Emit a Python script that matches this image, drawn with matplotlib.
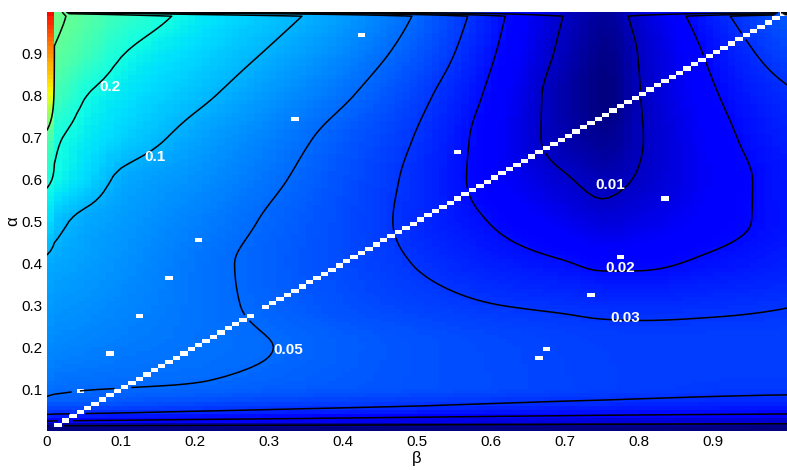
import numpy as np
import matplotlib
matplotlib.use("Agg")
import matplotlib.pyplot as plt
from matplotlib.colors import LogNorm

# coarse table of the surface, rows = alpha, columns = beta (beta = 0 kept apart)
alpha_rows = [0.0, 0.01, 0.02, 0.04, 0.07, 0.1, 0.2, 0.3, 0.4, 0.5, 0.6, 0.7, 0.8, 0.9, 0.99]
beta_cols = [0.01, 0.05, 0.1, 0.2, 0.3, 0.4, 0.5, 0.6, 0.7, 0.75, 0.8, 0.9, 1.0]

vals = [
    [0.0035, 0.0035, 0.0035, 0.0035, 0.0035, 0.0035, 0.0035, 0.0035, 0.0035, 0.0035, 0.0035, 0.0035, 0.0035],
    [0.0078, 0.0077, 0.0076, 0.0074, 0.0072, 0.0071, 0.0069, 0.0068, 0.0067, 0.0066, 0.0066, 0.0065, 0.0064],
    [0.0172, 0.0168, 0.0164, 0.0156, 0.0149, 0.0142, 0.0136, 0.0130, 0.0125, 0.0122, 0.0120, 0.0116, 0.0112],
    [0.0297, 0.0290, 0.0283, 0.0265, 0.0252, 0.0240, 0.0231, 0.0222, 0.0214, 0.0210, 0.0207, 0.0202, 0.0198],
    [0.0460, 0.0450, 0.0430, 0.0400, 0.0370, 0.0350, 0.0330, 0.0312, 0.0297, 0.0292, 0.0287, 0.0278, 0.0272],
    [0.0520, 0.0505, 0.0497, 0.0485, 0.0450, 0.0425, 0.0398, 0.0375, 0.0350, 0.0340, 0.0330, 0.0320, 0.0315],
    [0.0660, 0.0630, 0.0590, 0.0545, 0.0503, 0.0448, 0.0400, 0.0370, 0.0345, 0.0335, 0.0332, 0.0332, 0.0335],
    [0.0760, 0.0720, 0.0660, 0.0550, 0.0470, 0.0390, 0.0340, 0.0303, 0.0285, 0.0275, 0.0272, 0.0282, 0.0297],
    [0.0900, 0.0810, 0.0720, 0.0560, 0.0455, 0.0370, 0.0295, 0.0240, 0.0205, 0.0185, 0.0187, 0.0215, 0.0245],
    [0.1150, 0.0900, 0.0790, 0.0620, 0.0480, 0.0370, 0.0270, 0.0197, 0.0140, 0.0118, 0.0133, 0.0175, 0.0225],
    [0.1900, 0.1400, 0.0920, 0.0720, 0.0540, 0.0390, 0.0273, 0.0170, 0.0105, 0.0088, 0.0104, 0.0165, 0.0230],
    [0.2150, 0.1680, 0.1320, 0.0860, 0.0620, 0.0430, 0.0293, 0.0167, 0.0081, 0.0066, 0.0096, 0.0174, 0.0250],
    [0.3500, 0.2050, 0.1600, 0.1110, 0.0760, 0.0530, 0.0335, 0.0184, 0.0077, 0.0056, 0.0098, 0.0192, 0.0285],
    [0.4800, 0.3300, 0.2050, 0.1390, 0.0960, 0.0660, 0.0410, 0.0210, 0.0088, 0.0062, 0.0102, 0.0218, 0.0360],
    [0.5600, 0.4200, 0.3000, 0.1710, 0.1180, 0.0800, 0.0480, 0.0235, 0.0098, 0.0072, 0.0118, 0.0259, 0.0450],
]

# beta = 0 column, same alpha rows
beta0_col = [0.0035, 0.0079, 0.0176, 0.0302, 0.046, 0.054, 0.068, 0.080, 0.094, 0.145, 0.22, 0.40, 2.5, 8.0, 30.0]

# alpha = 1 row: collapses for beta >= 0.03
top_cut = 0.03
top_val = 0.002

levels = [0.01, 0.02, 0.03, 0.05, 0.1, 0.2, 0.5]

# cells with no result (beta index, alpha index)
holes = [(42, 94), (33, 74), (55, 66), (83, 55), (20, 45), (77, 41), (73, 32),
         (67, 19), (66, 17), (16, 36), (12, 27), (8, 18), (4, 9)]
diag_skip = [0, 28]

# label positions (beta, alpha) for each level shown
label_pos = {0.2: (0.085, 0.821), 0.1: (0.146, 0.654), 0.05: (0.326, 0.193),
             0.01: (0.761, 0.587), 0.02: (0.774, 0.389), 0.03: (0.781, 0.270)}


def pchip(x, y, xq):
    x = np.asarray(x, float); y = np.asarray(y, float); xq = np.asarray(xq, float)
    h = np.diff(x); d = np.diff(y) / h
    n = len(x)
    m = np.zeros(n)
    for k in range(1, n - 1):
        if d[k - 1] * d[k] > 0:
            w1 = 2 * h[k] + h[k - 1]; w2 = h[k] + 2 * h[k - 1]
            m[k] = (w1 + w2) / (w1 / d[k - 1] + w2 / d[k])

    def edge(h0, h1, d0, d1):
        s = ((2 * h0 + h1) * d0 - h0 * d1) / (h0 + h1)
        if np.sign(s) != np.sign(d0):
            s = 0.0
        elif np.sign(d0) != np.sign(d1) and abs(s) > 3 * abs(d0):
            s = 3 * d0
        return s
    m[0] = edge(h[0], h[1], d[0], d[1])
    m[-1] = edge(h[-1], h[-2], d[-1], d[-2])
    idx = np.clip(np.searchsorted(x, xq) - 1, 0, n - 2)
    t = (xq - x[idx]) / h[idx]
    return ((2 * t**3 - 3 * t**2 + 1) * y[idx] + (t**3 - 2 * t**2 + t) * h[idx] * m[idx]
            + (-2 * t**3 + 3 * t**2) * y[idx + 1] + (t**3 - t**2) * h[idx] * m[idx + 1])


beta = np.round(np.arange(101) * 0.01, 2)
alpha = np.round(np.arange(101) * 0.01, 2)

logtab = np.log10(np.array(vals))
rows = np.empty((len(alpha_rows), 101))
rows[:, 0] = np.log10(beta0_col)
for r in range(len(alpha_rows)):
    rows[r, 1:] = pchip(beta_cols, logtab[r], beta[1:])

logz = np.empty((101, 101))
for j in range(101):
    logz[:100, j] = pchip(alpha_rows, rows[:, j], alpha[:100])
logz[100] = np.where(beta < top_cut, logz[99], np.log10(top_val))

Z = 10 ** logz
for i in range(1, 100):
    if i not in diag_skip:
        Z[i, i] = np.nan
for bi, ai in holes:
    Z[ai, bi] = np.nan
Zm = np.ma.masked_invalid(Z)

fig = plt.figure(figsize=(7.87, 4.70), dpi=100)
ax = fig.add_axes([47 / 787, 39 / 470, 740 / 787, 419 / 470])

ax.pcolormesh(beta, alpha, Zm[:-1, :-1], cmap="jet",
              norm=LogNorm(vmin=0.0056, vmax=80), shading="flat")
ax.contour(beta, alpha, Zm, levels=levels, colors="k", linewidths=1.1)

for lev, (bx, ay) in label_pos.items():
    ax.text(bx, ay, f"{lev:g}", color="white", fontsize=11, fontweight="bold",
            family=["Liberation Sans", "DejaVu Sans"], ha="center", va="center")

tick_font = ["Liberation Sans", "DejaVu Sans"]

ax.set_xlim(0, 1)
ax.set_ylim(0, 1)
ax.set_xticks(np.round(np.arange(0, 1.0, 0.1), 1))
ax.set_xticklabels(["0"] + [f"{v:.1f}" for v in np.arange(0.1, 1.0, 0.1)])
ax.set_yticks(np.round(np.arange(0.1, 1.0, 0.1), 1))
ax.set_yticklabels([f"{v:.1f}" for v in np.arange(0.1, 1.0, 0.1)])
for lab in ax.get_xticklabels() + ax.get_yticklabels():
    lab.set_family(tick_font)
    lab.set_fontsize(11)
ax.tick_params(length=0, pad=3)
ax.set_xlabel("β", family=tick_font, fontsize=12)
ax.set_ylabel("α", family=tick_font, fontsize=12)
ax.xaxis.set_label_coords(0.5, -0.048)
ax.yaxis.set_label_coords(-0.036, 0.5)
for s in ax.spines.values():
    s.set_visible(False)

fig.savefig("out.png", dpi=100)
